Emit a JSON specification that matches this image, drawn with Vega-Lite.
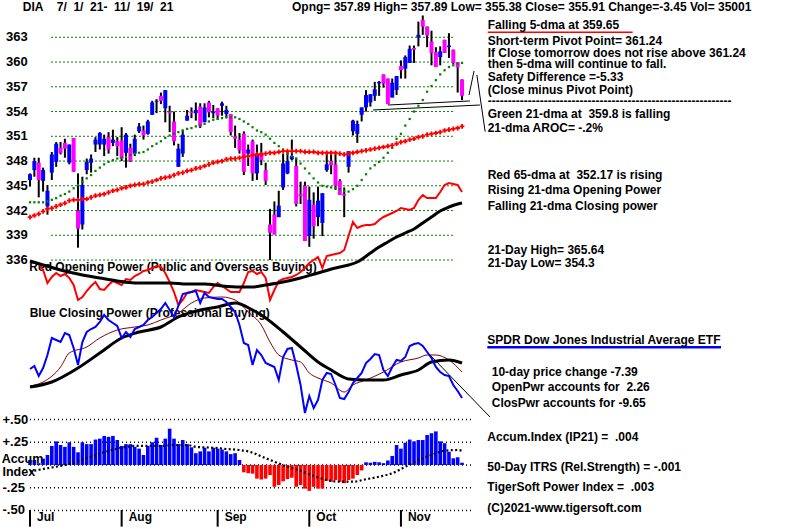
{
"$schema": "https://vega.github.io/schema/vega-lite/v6.json",
"width": 800, "height": 529,
"autosize": {"type": "fit", "contains": "padding"},
"padding": 0,
"background": "white",
"config": {"view": {"stroke": null}, "text": {"font": "Liberation Sans", "fontWeight": "bold", "fontSize": 12, "align": "left", "baseline": "middle", "color": "black"}},
"datasets": {
"candles": [
{"i":0,"o":345.7,"h":346.5,"l":344.9,"c":346.4},{"i":1,"o":346.9,"h":348.4,"l":346.1,"c":348.0},{"i":2,"o":347.8,"h":348.4,"l":343.6,"c":345.7},{"i":3,"o":345.6,"h":347.2,"l":344.3,"c":346.9},{"i":4,"o":342.5,"h":345.1,"l":341.5,"c":344.4},{"i":5,"o":346.6,"h":349.1,"l":345.7,"c":348.8},{"i":6,"o":347.9,"h":350.3,"l":347.3,"c":350.1},{"i":7,"o":349.6,"h":350.3,"l":348.8,"c":349.0},{"i":8,"o":350.2,"h":350.7,"l":348.4,"c":349.5},{"i":9,"o":347.8,"h":350.0,"l":347.6,"c":350.0},
{"i":10,"o":350.8,"h":350.8,"l":346.7,"c":346.7},{"i":11,"o":342.0,"h":346.5,"l":337.5,"c":339.8},{"i":12,"o":340.3,"h":346.1,"l":339.7,"c":345.1},{"i":13,"o":346.9,"h":348.3,"l":346.4,"c":347.9},{"i":14,"o":347.8,"h":348.8,"l":346.6,"c":348.3},{"i":15,"o":350.0,"h":350.9,"l":349.1,"c":350.6},{"i":16,"o":350.0,"h":351.5,"l":349.4,"c":351.4},{"i":17,"o":350.0,"h":351.2,"l":348.6,"c":350.7},{"i":18,"o":350.9,"h":351.5,"l":348.9,"c":349.4},{"i":19,"o":350.2,"h":351.8,"l":349.8,"c":350.6},
{"i":20,"o":350.4,"h":350.9,"l":348.6,"c":349.8},{"i":21,"o":350.5,"h":352.1,"l":348.0,"c":348.3},{"i":22,"o":349.0,"h":351.4,"l":347.2,"c":351.2},{"i":23,"o":349.6,"h":350.1,"l":347.9,"c":348.0},{"i":24,"o":348.9,"h":351.2,"l":348.6,"c":350.7},{"i":25,"o":351.6,"h":352.6,"l":351.4,"c":352.2},{"i":26,"o":351.7,"h":352.3,"l":350.6,"c":351.1},{"i":27,"o":351.3,"h":353.0,"l":351.2,"c":352.8},{"i":28,"o":353.6,"h":355.3,"l":353.6,"c":355.1},{"i":29,"o":355.2,"h":355.5,"l":353.8,"c":355.3},
{"i":30,"o":355.9,"h":356.3,"l":354.9,"c":355.3},{"i":31,"o":354.4,"h":356.6,"l":352.7,"c":356.6},{"i":32,"o":354.0,"h":354.7,"l":351.5,"c":353.8},{"i":33,"o":352.8,"h":354.0,"l":349.9,"c":350.4},{"i":34,"o":347.3,"h":350.1,"l":347.3,"c":349.5},{"i":35,"o":348.9,"h":351.8,"l":348.5,"c":351.2},{"i":36,"o":352.9,"h":354.2,"l":352.9,"c":353.5},{"i":37,"o":354.0,"h":354.5,"l":353.2,"c":353.8},{"i":38,"o":353.8,"h":355.1,"l":352.9,"c":354.2},{"i":39,"o":354.6,"h":355.0,"l":352.0,"c":352.2},
{"i":40,"o":352.7,"h":355.0,"l":352.7,"c":354.5},{"i":41,"o":355.1,"h":355.3,"l":353.3,"c":353.9},{"i":42,"o":353.8,"h":354.8,"l":353.2,"c":354.0},{"i":43,"o":354.4,"h":354.4,"l":353.0,"c":353.5},{"i":44,"o":354.7,"h":355.2,"l":353.5,"c":355.0},{"i":45,"o":353.7,"h":354.7,"l":353.2,"c":354.2},{"i":46,"o":353.7,"h":353.7,"l":351.1,"c":351.5},{"i":47,"o":351.0,"h":352.3,"l":349.6,"c":350.7},{"i":48,"o":350.6,"h":351.4,"l":348.9,"c":349.3},{"i":49,"o":351.3,"h":351.6,"l":346.3,"c":346.7},
{"i":50,"o":348.9,"h":350.0,"l":347.4,"c":349.4},{"i":51,"o":350.4,"h":350.6,"l":345.6,"c":346.5},{"i":52,"o":346.5,"h":350.0,"l":345.7,"c":348.9},{"i":53,"o":349.0,"h":350.2,"l":347.5,"c":348.1},{"i":54,"o":346.9,"h":347.8,"l":345.1,"c":345.6},{"i":55,"o":340.3,"h":342.2,"l":336.0,"c":339.3},{"i":56,"o":341.5,"h":343.1,"l":339.1,"c":339.1},{"i":57,"o":341.2,"h":344.4,"l":341.2,"c":342.6},{"i":58,"o":344.8,"h":348.9,"l":344.5,"c":347.7},{"i":59,"o":346.5,"h":349.2,"l":346.4,"c":348.0},
{"i":60,"o":348.2,"h":350.6,"l":348.1,"c":348.6},{"i":61,"o":347.4,"h":348.4,"l":342.5,"c":342.8},{"i":62,"o":344.0,"h":345.5,"l":342.8,"c":343.7},{"i":63,"o":345.0,"h":345.5,"l":338.3,"c":338.3},{"i":64,"o":338.9,"h":344.9,"l":337.6,"c":343.3},{"i":65,"o":342.7,"h":344.2,"l":338.6,"c":340.1},{"i":66,"o":341.2,"h":344.9,"l":340.1,"c":343.2},{"i":67,"o":340.5,"h":344.1,"l":338.9,"c":344.1},{"i":68,"o":346.9,"h":349.1,"l":346.7,"c":347.6},{"i":69,"o":348.0,"h":349.2,"l":346.4,"c":347.5},
{"i":70,"o":347.6,"h":349.1,"l":344.5,"c":345.0},{"i":71,"o":345.6,"h":345.8,"l":343.9,"c":343.9},{"i":72,"o":344.0,"h":344.8,"l":341.2,"c":343.8},{"i":73,"o":347.3,"h":349.2,"l":346.6,"c":349.2},{"i":74,"o":351.6,"h":353.0,"l":351.1,"c":352.9},{"i":75,"o":351.3,"h":352.9,"l":350.2,"c":352.5},{"i":76,"o":353.6,"h":354.5,"l":352.8,"c":354.5},{"i":77,"o":354.5,"h":356.6,"l":354.0,"c":356.0},{"i":78,"o":355.1,"h":356.1,"l":354.6,"c":356.1},{"i":79,"o":355.9,"h":357.6,"l":355.3,"c":356.7},
{"i":80,"o":357.4,"h":357.7,"l":355.9,"c":357.6},{"i":81,"o":358.5,"h":358.5,"l":356.9,"c":357.4},{"i":82,"o":358.0,"h":358.0,"l":354.9,"c":354.9},{"i":83,"o":355.7,"h":358.0,"l":355.7,"c":357.5},{"i":84,"o":356.6,"h":358.3,"l":356.0,"c":358.3},{"i":85,"o":359.5,"h":360.2,"l":358.0,"c":359.0},{"i":86,"o":359.2,"h":360.8,"l":358.0,"c":360.6},{"i":87,"o":359.9,"h":362.0,"l":359.9,"c":361.6},{"i":88,"o":361.7,"h":362.0,"l":359.9,"c":361.5},{"i":89,"o":363.0,"h":364.9,"l":361.9,"c":363.3},
{"i":90,"o":365.1,"h":365.64,"l":363.3,"c":364.3},{"i":91,"o":364.3,"h":364.3,"l":361.8,"c":363.2},{"i":92,"o":362.5,"h":363.8,"l":359.6,"c":361.1},{"i":93,"o":361.2,"h":361.8,"l":359.4,"c":359.4},{"i":94,"o":360.6,"h":361.9,"l":359.6,"c":361.3},{"i":95,"o":362.7,"h":362.7,"l":361.1,"c":361.1},{"i":96,"o":361.8,"h":363.5,"l":360.5,"c":362.0},{"i":97,"o":361.5,"h":361.5,"l":359.7,"c":359.9},{"i":98,"o":360.0,"h":360.0,"l":356.3,"c":359.36},{"i":99,"o":357.89,"h":357.89,"l":355.38,"c":355.91}
],
"ma": [
{"i":0,"g":343.0,"r":341.2},{"i":1,"g":343.0,"r":341.4},{"i":2,"g":343.0,"r":341.6},{"i":3,"g":343.0,"r":341.9},{"i":4,"g":343.1,"r":342.2},{"i":5,"g":343.3,"r":342.3},{"i":6,"g":343.5,"r":342.5},{"i":7,"g":343.8,"r":342.7},{"i":8,"g":344.0,"r":342.9},{"i":9,"g":344.3,"r":343.2},
{"i":10,"g":344.7,"r":343.3},{"i":11,"g":345.1,"r":343.3},{"i":12,"g":345.5,"r":343.4},{"i":13,"g":345.9,"r":343.4},{"i":14,"g":346.3,"r":343.6},{"i":15,"g":346.8,"r":343.8},{"i":16,"g":347.2,"r":343.9},{"i":17,"g":347.6,"r":344.0},{"i":18,"g":347.9,"r":344.2},{"i":19,"g":348.1,"r":344.4},
{"i":20,"g":348.3,"r":344.5},{"i":21,"g":348.4,"r":344.7},{"i":22,"g":348.5,"r":344.8},{"i":23,"g":348.7,"r":345.0},{"i":24,"g":348.9,"r":345.1},{"i":25,"g":349.0,"r":345.2},{"i":26,"g":349.1,"r":345.2},{"i":27,"g":349.4,"r":345.4},{"i":28,"g":349.8,"r":345.5},{"i":29,"g":350.1,"r":345.7},
{"i":30,"g":350.4,"r":345.9},{"i":31,"g":350.8,"r":346.0},{"i":32,"g":351.1,"r":346.1},{"i":33,"g":351.3,"r":346.3},{"i":34,"g":351.5,"r":346.5},{"i":35,"g":351.7,"r":346.6},{"i":36,"g":351.9,"r":346.8},{"i":37,"g":352.0,"r":346.9},{"i":38,"g":352.2,"r":347.1},{"i":39,"g":352.3,"r":347.2},
{"i":40,"g":352.5,"r":347.4},{"i":41,"g":352.8,"r":347.6},{"i":42,"g":353.0,"r":347.8},{"i":43,"g":353.1,"r":347.9},{"i":44,"g":353.2,"r":348.0},{"i":45,"g":353.3,"r":348.2},{"i":46,"g":353.3,"r":348.3},{"i":47,"g":353.3,"r":348.3},{"i":48,"g":353.1,"r":348.4},{"i":49,"g":352.8,"r":348.5},
{"i":50,"g":352.5,"r":348.6},{"i":51,"g":352.1,"r":348.7},{"i":52,"g":351.7,"r":348.8},{"i":53,"g":351.5,"r":348.8},{"i":54,"g":351.2,"r":348.9},{"i":55,"g":350.7,"r":349.0},{"i":56,"g":350.2,"r":349.0},{"i":57,"g":349.8,"r":349.1},{"i":58,"g":349.4,"r":349.2},{"i":59,"g":348.9,"r":349.2},
{"i":60,"g":348.6,"r":349.2},{"i":61,"g":348.3,"r":349.2},{"i":62,"g":347.7,"r":349.2},{"i":63,"g":347.1,"r":349.1},{"i":64,"g":346.5,"r":349.1},{"i":65,"g":345.9,"r":349.1},{"i":66,"g":345.4,"r":349.0},{"i":67,"g":345.0,"r":349.0},{"i":68,"g":344.9,"r":349.0},{"i":69,"g":344.8,"r":349.0},
{"i":70,"g":344.7,"r":349.0},{"i":71,"g":344.6,"r":348.9},{"i":72,"g":344.4,"r":348.8},{"i":73,"g":344.3,"r":348.9},{"i":74,"g":344.6,"r":349.0},{"i":75,"g":345.0,"r":349.1},{"i":76,"g":345.7,"r":349.2},{"i":77,"g":346.4,"r":349.3},{"i":78,"g":347.1,"r":349.4},{"i":79,"g":347.5,"r":349.5},
{"i":80,"g":347.9,"r":349.6},{"i":81,"g":348.4,"r":349.7},{"i":82,"g":349.0,"r":349.8},{"i":83,"g":349.6,"r":349.9},{"i":84,"g":350.7,"r":350.1},{"i":85,"g":351.3,"r":350.3},{"i":86,"g":352.3,"r":350.4},{"i":87,"g":353.1,"r":350.6},{"i":88,"g":354.0,"r":350.7},{"i":89,"g":354.7,"r":350.9},
{"i":90,"g":355.4,"r":351.0},{"i":91,"g":356.4,"r":351.2},{"i":92,"g":357.1,"r":351.3},{"i":93,"g":357.8,"r":351.4},{"i":94,"g":358.5,"r":351.5},{"i":95,"g":359.0,"r":351.7},{"i":96,"g":359.4,"r":351.8},{"i":97,"g":359.6,"r":351.9},{"i":98,"g":359.8,"r":352.0},{"i":99,"g":359.9,"r":352.2}
],
"op": [
{"i":0,"v":98.67},{"i":1,"v":98.67},{"i":2,"v":97.33},{"i":3,"v":93.33},{"i":4,"v":84.67},{"i":5,"v":88.67},{"i":6,"v":91.33},{"i":7,"v":89.33},{"i":8,"v":90.67},{"i":9,"v":88},{"i":10,"v":83.33},{"i":11,"v":73.33},{"i":12,"v":75.33},{"i":13,"v":79.33},{"i":14,"v":82.67},{"i":15,"v":85.33},{"i":16,"v":80.67},{"i":17,"v":80},{"i":18,"v":83.33},{"i":19,"v":86},{"i":20,"v":84.67},{"i":21,"v":83.33},{"i":22,"v":87.33},{"i":23,"v":86.67},{"i":24,"v":89.33},{"i":25,"v":90.67},{"i":26,"v":92.67},{"i":27,"v":93.33},{"i":28,"v":94.67},{"i":29,"v":96},{"i":30,"v":95.33},{"i":31,"v":91.33},{"i":32,"v":85.33},{"i":33,"v":78.67},{"i":34,"v":70},{"i":35,"v":73.33},{"i":36,"v":78},{"i":37,"v":78.67},{"i":38,"v":80},{"i":39,"v":79.33},{"i":40,"v":78.67},{"i":41,"v":78},{"i":42,"v":82},{"i":43,"v":84.67},{"i":44,"v":82.67},{"i":45,"v":80.67},{"i":46,"v":78.67},{"i":47,"v":78.67},{"i":48,"v":78.67},{"i":49,"v":84.67},{"i":50,"v":92},{"i":51,"v":92.67},{"i":52,"v":90.67},{"i":53,"v":92},{"i":54,"v":88},{"i":55,"v":73.33},{"i":56,"v":80},{"i":57,"v":86},{"i":58,"v":87.33},{"i":59,"v":88},{"i":60,"v":88.67},{"i":61,"v":90},{"i":62,"v":92},{"i":63,"v":94.67},{"i":64,"v":98},{"i":65,"v":100},{"i":66,"v":102},{"i":67,"v":94.67},{"i":68,"v":102.67},{"i":69,"v":103.33},{"i":70,"v":104},{"i":71,"v":104.67},{"i":72,"v":106.67},{"i":73,"v":116},{"i":74,"v":125.33},{"i":75,"v":121.33},{"i":76,"v":122.67},{"i":77,"v":123.33},{"i":78,"v":123.33},{"i":79,"v":124},{"i":80,"v":126.67},{"i":81,"v":128.67},{"i":82,"v":130},{"i":83,"v":131.33},{"i":84,"v":132.67},{"i":85,"v":134.67},{"i":86,"v":134},{"i":87,"v":133.33},{"i":88,"v":134.67},{"i":89,"v":140},{"i":90,"v":143.33},{"i":91,"v":141.33},{"i":92,"v":141.33},{"i":93,"v":141.33},{"i":94,"v":145.33},{"i":95,"v":150},{"i":96,"v":151.33},{"i":97,"v":150.67},{"i":98,"v":150},{"i":99,"v":145.33}
],
"opma": [
{"i":0,"v":99.33},{"i":3,"v":96.67},{"i":7,"v":93.33},{"i":11,"v":90.67},{"i":16,"v":88},{"i":20,"v":86},{"i":24,"v":84.67},{"i":28,"v":84.67},{"i":32,"v":84.67},{"i":36,"v":84},{"i":40,"v":84},{"i":44,"v":82.67},{"i":48,"v":82},{"i":51,"v":82},{"i":54,"v":83.33},{"i":58,"v":85.33},{"i":62,"v":88},{"i":66,"v":91.33},{"i":70,"v":94.67},{"i":73,"v":96.67},{"i":75,"v":98.67},{"i":78,"v":104.67},{"i":80,"v":108.67},{"i":82,"v":112},{"i":84,"v":115.33},{"i":86,"v":118},{"i":88,"v":120.67},{"i":90,"v":124.67},{"i":92,"v":128.67},{"i":94,"v":132.67},{"i":96,"v":135.33},{"i":98,"v":137.33},{"i":99,"v":138}
],
"cp": [
{"i":0,"v":27.33},{"i":1,"v":29.33},{"i":2,"v":22.67},{"i":3,"v":28},{"i":4,"v":36.67},{"i":5,"v":48},{"i":6,"v":46.67},{"i":7,"v":45.33},{"i":8,"v":51.33},{"i":9,"v":50},{"i":10,"v":41.33},{"i":11,"v":30},{"i":12,"v":45.33},{"i":13,"v":52},{"i":14,"v":54},{"i":15,"v":55.33},{"i":16,"v":58.67},{"i":17,"v":63.33},{"i":18,"v":60},{"i":19,"v":58},{"i":20,"v":56},{"i":21,"v":48},{"i":22,"v":52},{"i":23,"v":48.67},{"i":24,"v":54},{"i":25,"v":55.33},{"i":26,"v":56.67},{"i":27,"v":60},{"i":28,"v":62},{"i":29,"v":64.67},{"i":30,"v":67.33},{"i":31,"v":71.33},{"i":32,"v":66.67},{"i":33,"v":62},{"i":34,"v":69.33},{"i":35,"v":77.33},{"i":36,"v":78},{"i":37,"v":78.67},{"i":38,"v":79.33},{"i":39,"v":71.33},{"i":40,"v":78},{"i":41,"v":75.33},{"i":42,"v":74.67},{"i":43,"v":74},{"i":44,"v":74},{"i":45,"v":72},{"i":46,"v":68.67},{"i":47,"v":65.33},{"i":48,"v":56.67},{"i":49,"v":44.67},{"i":50,"v":43.33},{"i":51,"v":30},{"i":52,"v":40},{"i":53,"v":36.67},{"i":54,"v":31.33},{"i":55,"v":30},{"i":56,"v":28.67},{"i":57,"v":20},{"i":58,"v":35.33},{"i":59,"v":40.67},{"i":60,"v":41.33},{"i":61,"v":30},{"i":62,"v":16.67},{"i":63,"v":-2},{"i":64,"v":9.33},{"i":65,"v":1.33},{"i":66,"v":6.67},{"i":67,"v":20},{"i":68,"v":24.67},{"i":69,"v":24},{"i":70,"v":16.67},{"i":71,"v":8},{"i":72,"v":7.33},{"i":73,"v":12},{"i":74,"v":18},{"i":75,"v":21.33},{"i":76,"v":24.67},{"i":77,"v":31.33},{"i":78,"v":34},{"i":79,"v":37.33},{"i":80,"v":36.67},{"i":81,"v":26.67},{"i":82,"v":22.67},{"i":83,"v":28.67},{"i":84,"v":33.33},{"i":85,"v":32.67},{"i":86,"v":35.33},{"i":87,"v":42.67},{"i":88,"v":44},{"i":89,"v":44.67},{"i":90,"v":42.67},{"i":91,"v":38.67},{"i":92,"v":34.67},{"i":93,"v":28.67},{"i":94,"v":25.33},{"i":95,"v":23.33},{"i":96,"v":22.67},{"i":97,"v":16.67},{"i":98,"v":12.67},{"i":99,"v":8}
],
"cpm": [
{"i":0,"v":16},{"i":3,"v":18.67},{"i":7,"v":28.67},{"i":9,"v":38},{"i":13,"v":42},{"i":16,"v":48},{"i":20,"v":53.33},{"i":24,"v":55.33},{"i":27,"v":56.67},{"i":30,"v":60},{"i":34,"v":64.67},{"i":37,"v":71.33},{"i":40,"v":74.67},{"i":44,"v":75.33},{"i":47,"v":73.33},{"i":50,"v":65.33},{"i":53,"v":56.67},{"i":55,"v":45.33},{"i":57,"v":36.67},{"i":60,"v":33.33},{"i":62,"v":32},{"i":64,"v":24.67},{"i":66,"v":21.33},{"i":69,"v":18},{"i":72,"v":12},{"i":74,"v":16.67},{"i":77,"v":20},{"i":81,"v":25.33},{"i":85,"v":32},{"i":89,"v":34.67},{"i":91,"v":36.67},{"i":93,"v":36.67},{"i":96,"v":33.33},{"i":99,"v":25.33}
],
"cpb": [
{"i":0,"v":15.33},{"i":5,"v":18.67},{"i":11,"v":28},{"i":16,"v":38},{"i":21,"v":48},{"i":25,"v":52},{"i":30,"v":55.33},{"i":34,"v":62},{"i":39,"v":66.67},{"i":43,"v":68.67},{"i":47,"v":71.33},{"i":51,"v":66.67},{"i":54,"v":61.33},{"i":58,"v":52},{"i":62,"v":42},{"i":66,"v":32},{"i":69,"v":26.67},{"i":73,"v":20.67},{"i":77,"v":20},{"i":81,"v":20},{"i":85,"v":23.33},{"i":89,"v":26.67},{"i":92,"v":32},{"i":96,"v":33.33},{"i":99,"v":31.33}
],
"acc": [
{"i":0,"v":0.055},{"i":1,"v":0.055},{"i":2,"v":0.02},{"i":3,"v":0.07},{"i":4,"v":0.11},{"i":5,"v":0.21},{"i":6,"v":0.26},{"i":7,"v":0.22},{"i":8,"v":0.2},{"i":9,"v":0.25},{"i":10,"v":0.2},{"i":11,"v":0.14},{"i":12,"v":0.25},{"i":13,"v":0.23},{"i":14,"v":0.23},{"i":15,"v":0.28},{"i":16,"v":0.29},{"i":17,"v":0.32},{"i":18,"v":0.31},{"i":19,"v":0.32},{"i":20,"v":0.275},{"i":21,"v":0.21},{"i":22,"v":0.23},{"i":23,"v":0.23},{"i":24,"v":0.2},{"i":25,"v":0.18},{"i":26,"v":0.11},{"i":27,"v":0.21},{"i":28,"v":0.25},{"i":29,"v":0.3},{"i":30,"v":0.22},{"i":31,"v":0.29},{"i":32,"v":0.4},{"i":33,"v":0.29},{"i":34,"v":0.23},{"i":35,"v":0.275},{"i":36,"v":0.23},{"i":37,"v":0.195},{"i":38,"v":0.13},{"i":39,"v":0.15},{"i":40,"v":0.19},{"i":41,"v":0.15},{"i":42,"v":0.19},{"i":43,"v":0.18},{"i":44,"v":0.17},{"i":45,"v":0.15},{"i":46,"v":0.12},{"i":47,"v":0.13},{"i":48,"v":0.055},{"i":49,"v":-0.08},{"i":50,"v":-0.09},{"i":51,"v":-0.095},{"i":52,"v":-0.15},{"i":53,"v":-0.16},{"i":54,"v":-0.15},{"i":55,"v":-0.11},{"i":56,"v":-0.24},{"i":57,"v":-0.22},{"i":58,"v":-0.18},{"i":59,"v":-0.155},{"i":60,"v":-0.14},{"i":61,"v":-0.24},{"i":62,"v":-0.22},{"i":63,"v":-0.26},{"i":64,"v":-0.285},{"i":65,"v":-0.24},{"i":66,"v":-0.26},{"i":67,"v":-0.26},{"i":68,"v":-0.175},{"i":69,"v":-0.185},{"i":70,"v":-0.165},{"i":71,"v":-0.185},{"i":72,"v":-0.2},{"i":73,"v":-0.165},{"i":74,"v":-0.15},{"i":75,"v":-0.11},{"i":76,"v":-0.06},{"i":77,"v":0.03},{"i":78,"v":0.025},{"i":79,"v":0.035},{"i":80,"v":0.03},{"i":81,"v":0.02},{"i":82,"v":0.05},{"i":83,"v":0.1},{"i":84,"v":0.22},{"i":85,"v":0.18},{"i":86,"v":0.245},{"i":87,"v":0.28},{"i":88,"v":0.26},{"i":89,"v":0.275},{"i":90,"v":0.275},{"i":91,"v":0.33},{"i":92,"v":0.35},{"i":93,"v":0.37},{"i":94,"v":0.26},{"i":95,"v":0.24},{"i":96,"v":0.146},{"i":97,"v":0.074},{"i":98,"v":0.085},{"i":99,"v":0.025}
],
"accma": [
{"i":0,"v":-0.074},{"i":3,"v":-0.044},{"i":6,"v":-0.019},{"i":9,"v":0.011},{"i":11,"v":0.044},{"i":14,"v":0.091},{"i":17,"v":0.14},{"i":21,"v":0.19},{"i":24,"v":0.21},{"i":27,"v":0.21},{"i":30,"v":0.21},{"i":33,"v":0.22},{"i":36,"v":0.22},{"i":38,"v":0.2},{"i":42,"v":0.19},{"i":45,"v":0.176},{"i":48,"v":0.165},{"i":50,"v":0.15},{"i":53,"v":0.095},{"i":56,"v":0.036},{"i":59,"v":-0.019},{"i":62,"v":-0.063},{"i":65,"v":-0.121},{"i":68,"v":-0.165},{"i":71,"v":-0.184},{"i":74,"v":-0.184},{"i":77,"v":-0.157},{"i":80,"v":-0.129},{"i":83,"v":-0.091},{"i":86,"v":-0.019},{"i":89,"v":0.055},{"i":92,"v":0.11},{"i":95,"v":0.157},{"i":98,"v":0.165},{"i":99,"v":0.157}
],
"grid": [{"p":336},{"p":339},{"p":342},{"p":345},{"p":348},{"p":351},{"p":354},{"p":357},{"p":360},{"p":363}],
"agrid": [{"v":0.5,"t":"+.50"},{"v":0.25,"t":"+.25"},{"v":0,"t":""},{"v":-0.25,"t":"-.25"},{"v":-0.5,"t":"-.50"}],
"months": [{"i":0,"m":"Jul"},{"i":21,"m":"Aug"},{"i":43,"m":"Sep"},{"i":64,"m":"Oct"},{"i":85,"m":"Nov"}]
},
"resolve": {"scale": {"y": "independent"}},
"layer": [
{
"layer": [
{"data": {"name": "grid"}, "mark": {"type": "rule", "color": "#008000", "strokeDash": [2, 2], "strokeWidth": 1},
 "encoding": {"x": {"datum": 4.81, "type": "quantitative", "scale": {"domain": [-6.8744, 176.444], "nice": false, "zero": false}, "axis": null}, "x2": {"datum": 97.39}, "y": {"field": "p", "type": "quantitative", "scale": {"domain": [303.4, 367.52], "nice": false, "zero": false}, "axis": null}}},
{"data": {"name": "grid"}, "mark": {"type": "text", "fontSize": 13},
 "encoding": {"x": {"datum": -5.5, "type": "quantitative", "scale": {"domain": [-6.8744, 176.444], "nice": false, "zero": false}, "axis": null}, "y": {"field": "p", "type": "quantitative", "scale": {"domain": [303.4, 367.52], "nice": false, "zero": false}, "axis": null}, "text": {"field": "p", "type": "nominal"}}},
{"data": {"name": "candles"}, "mark": {"type": "rule", "color": "black", "strokeWidth": 2},
 "encoding": {"x": {"field": "i", "type": "quantitative", "scale": {"domain": [-6.8744, 176.444], "nice": false, "zero": false}, "axis": null}, "y": {"field": "l", "type": "quantitative", "scale": {"domain": [303.4, 367.52], "nice": false, "zero": false}, "axis": null}, "y2": {"field": "h"}}},
{"data": {"name": "candles"}, "mark": {"type": "rule", "strokeWidth": 4, "strokeCap": "butt"},
 "encoding": {"x": {"field": "i", "type": "quantitative", "scale": {"domain": [-6.8744, 176.444], "nice": false, "zero": false}, "axis": null}, "y": {"field": "o", "type": "quantitative", "scale": {"domain": [303.4, 367.52], "nice": false, "zero": false}, "axis": null}, "y2": {"field": "c"},
  "color": {"condition": {"test": "datum.c >= datum.o", "value": "#0000ff"}, "value": "#ff00ff"}}},
{"data": {"name": "ma"}, "mark": {"type": "point", "shape": "square", "size": 5, "filled": true, "color": "#008000", "opacity": 1},
 "encoding": {"x": {"field": "i", "type": "quantitative", "scale": {"domain": [-6.8744, 176.444], "nice": false, "zero": false}, "axis": null}, "y": {"field": "g", "type": "quantitative", "scale": {"domain": [303.4, 367.52], "nice": false, "zero": false}, "axis": null}}},
{"data": {"name": "ma"}, "mark": {"type": "point", "shape": "cross", "size": 22, "filled": true, "color": "#ff0000", "opacity": 1},
 "encoding": {"x": {"field": "i", "type": "quantitative", "scale": {"domain": [-6.8744, 176.444], "nice": false, "zero": false}, "axis": null}, "y": {"field": "r", "type": "quantitative", "scale": {"domain": [303.4, 367.52], "nice": false, "zero": false}, "axis": null}}},
{"data": {"values": [{}]}, "mark": {"type": "rule", "color": "black", "strokeWidth": 1},
 "encoding": {"x": {"datum": 78.6, "type": "quantitative", "scale": {"domain": [-6.8744, 176.444], "nice": false, "zero": false}, "axis": null}, "x2": {"datum": 103.1}, "y": {"datum": 354.19, "type": "quantitative", "scale": {"domain": [303.4, 367.52], "nice": false, "zero": false}, "axis": null}, "y2": {"datum": 354.79}}},
{"data": {"values": [{}]}, "mark": {"type": "rule", "color": "black", "strokeWidth": 1},
 "encoding": {"x": {"datum": 82.0, "type": "quantitative", "scale": {"domain": [-6.8744, 176.444], "nice": false, "zero": false}, "axis": null}, "x2": {"datum": 100.8}, "y": {"datum": 354.79, "type": "quantitative", "scale": {"domain": [303.4, 367.52], "nice": false, "zero": false}, "axis": null}, "y2": {"datum": 355.28}}},
{"data": {"values": [{}]}, "mark": {"type": "rule", "color": "black", "strokeWidth": 1},
 "encoding": {"x": {"datum": 100.6, "type": "quantitative", "scale": {"domain": [-6.8744, 176.444], "nice": false, "zero": false}, "axis": null}, "x2": {"datum": 101.75}, "y": {"datum": 356.01, "type": "quantitative", "scale": {"domain": [303.4, 367.52], "nice": false, "zero": false}, "axis": null}, "y2": {"datum": 358.92}}},
{"data": {"values": [{}]}, "mark": {"type": "rule", "color": "black", "strokeWidth": 1},
 "encoding": {"x": {"datum": 102.4, "type": "quantitative", "scale": {"domain": [-6.8744, 176.444], "nice": false, "zero": false}, "axis": null}, "x2": {"datum": 104.3}, "y": {"datum": 358.43, "type": "quantitative", "scale": {"domain": [303.4, 367.52], "nice": false, "zero": false}, "axis": null}, "y2": {"datum": 351.56}}},
{"data": {"values": [{}]}, "mark": {"type": "rule", "color": "#ff0000", "strokeWidth": 1.5},
 "encoding": {"x": {"datum": 104.88, "type": "quantitative", "scale": {"domain": [-6.8744, 176.444], "nice": false, "zero": false}, "axis": null}, "x2": {"datum": 138.1}, "y": {"datum": 363.61, "type": "quantitative", "scale": {"domain": [303.4, 367.52], "nice": false, "zero": false}, "axis": null}}},
{"data": {"values": [{}]}, "mark": {"type": "text", "text": "DIA"}, "encoding": {"x": {"datum": -1.67, "type": "quantitative", "scale": {"domain": [-6.8744, 176.444], "nice": false, "zero": false}, "axis": null}, "y": {"datum": 366.71, "type": "quantitative", "scale": {"domain": [303.4, 367.52], "nice": false, "zero": false}, "axis": null}}},
{"data": {"values": [{}]}, "mark": {"type": "text", "text": "7/\u00a0\u00a01/\u00a0\u00a021-\u00a0\u00a011/\u00a0\u00a019/\u00a0\u00a021"}, "encoding": {"x": {"datum": 6.12, "type": "quantitative", "scale": {"domain": [-6.8744, 176.444], "nice": false, "zero": false}, "axis": null}, "y": {"datum": 366.71, "type": "quantitative", "scale": {"domain": [303.4, 367.52], "nice": false, "zero": false}, "axis": null}}},
{"data": {"values": [{}]}, "mark": {"type": "text", "text": "Opng= 357.89 High= 357.89 Low= 355.38 Close= 355.91 Change=-3.45 Vol= 35001"}, "encoding": {"x": {"datum": 60.04, "type": "quantitative", "scale": {"domain": [-6.8744, 176.444], "nice": false, "zero": false}, "axis": null}, "y": {"datum": 366.71, "type": "quantitative", "scale": {"domain": [303.4, 367.52], "nice": false, "zero": false}, "axis": null}}},
{"data": {"values": [{}]}, "mark": {"type": "text", "text": "Falling 5-dma at 359.65"}, "encoding": {"x": {"datum": 104.88, "type": "quantitative", "scale": {"domain": [-6.8744, 176.444], "nice": false, "zero": false}, "axis": null}, "y": {"datum": 364.49, "type": "quantitative", "scale": {"domain": [303.4, 367.52], "nice": false, "zero": false}, "axis": null}}},
{"data": {"values": [{}]}, "mark": {"type": "text", "text": "Short-term Pivot Point= 361.24"}, "encoding": {"x": {"datum": 104.88, "type": "quantitative", "scale": {"domain": [-6.8744, 176.444], "nice": false, "zero": false}, "axis": null}, "y": {"datum": 362.59, "type": "quantitative", "scale": {"domain": [303.4, 367.52], "nice": false, "zero": false}, "axis": null}}},
{"data": {"values": [{}]}, "mark": {"type": "text", "text": "If Close tomorrow does not rise above 361.24"}, "encoding": {"x": {"datum": 104.88, "type": "quantitative", "scale": {"domain": [-6.8744, 176.444], "nice": false, "zero": false}, "axis": null}, "y": {"datum": 361.13, "type": "quantitative", "scale": {"domain": [303.4, 367.52], "nice": false, "zero": false}, "axis": null}}},
{"data": {"values": [{}]}, "mark": {"type": "text", "text": "then 5-dma will continue to fall."}, "encoding": {"x": {"datum": 104.88, "type": "quantitative", "scale": {"domain": [-6.8744, 176.444], "nice": false, "zero": false}, "axis": null}, "y": {"datum": 359.73, "type": "quantitative", "scale": {"domain": [303.4, 367.52], "nice": false, "zero": false}, "axis": null}}},
{"data": {"values": [{}]}, "mark": {"type": "text", "text": "Safety Difference =-5.33"}, "encoding": {"x": {"datum": 104.88, "type": "quantitative", "scale": {"domain": [-6.8744, 176.444], "nice": false, "zero": false}, "axis": null}, "y": {"datum": 358.22, "type": "quantitative", "scale": {"domain": [303.4, 367.52], "nice": false, "zero": false}, "axis": null}}},
{"data": {"values": [{}]}, "mark": {"type": "text", "text": "\u00a0(Close minus Pivot Point)"}, "encoding": {"x": {"datum": 104.88, "type": "quantitative", "scale": {"domain": [-6.8744, 176.444], "nice": false, "zero": false}, "axis": null}, "y": {"datum": 356.61, "type": "quantitative", "scale": {"domain": [303.4, 367.52], "nice": false, "zero": false}, "axis": null}}},
{"data": {"values": [{}]}, "mark": {"type": "text", "text": "-------------------------------------------------------------"}, "encoding": {"x": {"datum": 104.88, "type": "quantitative", "scale": {"domain": [-6.8744, 176.444], "nice": false, "zero": false}, "axis": null}, "y": {"datum": 355.3, "type": "quantitative", "scale": {"domain": [303.4, 367.52], "nice": false, "zero": false}, "axis": null}}},
{"data": {"values": [{}]}, "mark": {"type": "text", "text": "Green 21-dma at\u00a0\u00a0359.8 is falling"}, "encoding": {"x": {"datum": 104.88, "type": "quantitative", "scale": {"domain": [-6.8744, 176.444], "nice": false, "zero": false}, "axis": null}, "y": {"datum": 353.7, "type": "quantitative", "scale": {"domain": [303.4, 367.52], "nice": false, "zero": false}, "axis": null}}},
{"data": {"values": [{}]}, "mark": {"type": "text", "text": "21-dma AROC= -.2%"}, "encoding": {"x": {"datum": 104.88, "type": "quantitative", "scale": {"domain": [-6.8744, 176.444], "nice": false, "zero": false}, "axis": null}, "y": {"datum": 351.97, "type": "quantitative", "scale": {"domain": [303.4, 367.52], "nice": false, "zero": false}, "axis": null}}},
{"data": {"values": [{}]}, "mark": {"type": "text", "text": "Red 65-dma at\u00a0\u00a0352.17 is rising"}, "encoding": {"x": {"datum": 104.88, "type": "quantitative", "scale": {"domain": [-6.8744, 176.444], "nice": false, "zero": false}, "axis": null}, "y": {"datum": 346.31, "type": "quantitative", "scale": {"domain": [303.4, 367.52], "nice": false, "zero": false}, "axis": null}}},
{"data": {"values": [{}]}, "mark": {"type": "text", "text": "Rising 21-dma Opening Power"}, "encoding": {"x": {"datum": 104.88, "type": "quantitative", "scale": {"domain": [-6.8744, 176.444], "nice": false, "zero": false}, "axis": null}, "y": {"datum": 344.49, "type": "quantitative", "scale": {"domain": [303.4, 367.52], "nice": false, "zero": false}, "axis": null}}},
{"data": {"values": [{}]}, "mark": {"type": "text", "text": "Falling 21-dma Closing power"}, "encoding": {"x": {"datum": 104.88, "type": "quantitative", "scale": {"domain": [-6.8744, 176.444], "nice": false, "zero": false}, "axis": null}, "y": {"datum": 342.59, "type": "quantitative", "scale": {"domain": [303.4, 367.52], "nice": false, "zero": false}, "axis": null}}},
{"data": {"values": [{}]}, "mark": {"type": "text", "text": "21-Day High= 365.64"}, "encoding": {"x": {"datum": 104.88, "type": "quantitative", "scale": {"domain": [-6.8744, 176.444], "nice": false, "zero": false}, "axis": null}, "y": {"datum": 337.22, "type": "quantitative", "scale": {"domain": [303.4, 367.52], "nice": false, "zero": false}, "axis": null}}},
{"data": {"values": [{}]}, "mark": {"type": "text", "text": "21-Day Low= 354.3"}, "encoding": {"x": {"datum": 104.88, "type": "quantitative", "scale": {"domain": [-6.8744, 176.444], "nice": false, "zero": false}, "axis": null}, "y": {"datum": 335.61, "type": "quantitative", "scale": {"domain": [303.4, 367.52], "nice": false, "zero": false}, "axis": null}}}
]
},
{
"layer": [
{"data": {"values": [{}]}, "mark": {"type": "text", "text": "Red Opening Power (Public and Overseas Buying)"}, "encoding": {"x": {"datum": -0.16, "type": "quantitative", "scale": {"domain": [-6.8744, 176.444], "nice": false, "zero": false}, "axis": null}, "y": {"datum": 95.33, "type": "quantitative", "scale": {"domain": [-79.33, 273.33], "nice": false, "zero": false}, "axis": null}}},
{"data": {"values": [{}]}, "mark": {"type": "text", "text": "Blue Closing Power (Professional Buying)"}, "encoding": {"x": {"datum": -0.07, "type": "quantitative", "scale": {"domain": [-6.8744, 176.444], "nice": false, "zero": false}, "axis": null}, "y": {"datum": 64.67, "type": "quantitative", "scale": {"domain": [-79.33, 273.33], "nice": false, "zero": false}, "axis": null}}},
{"data": {"name": "op"}, "mark": {"type": "line", "color": "#ff0000", "strokeWidth": 2},
 "encoding": {"x": {"field": "i", "type": "quantitative", "scale": {"domain": [-6.8744, 176.444], "nice": false, "zero": false}, "axis": null}, "y": {"field": "v", "type": "quantitative", "scale": {"domain": [-79.33, 273.33], "nice": false, "zero": false}, "axis": null}}},
{"data": {"name": "opma"}, "mark": {"type": "line", "color": "black", "strokeWidth": 3, "interpolate": "monotone"},
 "encoding": {"x": {"field": "i", "type": "quantitative", "scale": {"domain": [-6.8744, 176.444], "nice": false, "zero": false}, "axis": null}, "y": {"field": "v", "type": "quantitative", "scale": {"domain": [-79.33, 273.33], "nice": false, "zero": false}, "axis": null}}},
{"data": {"name": "cpm"}, "mark": {"type": "line", "color": "#800000", "strokeWidth": 1, "interpolate": "monotone"},
 "encoding": {"x": {"field": "i", "type": "quantitative", "scale": {"domain": [-6.8744, 176.444], "nice": false, "zero": false}, "axis": null}, "y": {"field": "v", "type": "quantitative", "scale": {"domain": [-79.33, 273.33], "nice": false, "zero": false}, "axis": null}}},
{"data": {"name": "cpb"}, "mark": {"type": "line", "color": "black", "strokeWidth": 3, "interpolate": "monotone"},
 "encoding": {"x": {"field": "i", "type": "quantitative", "scale": {"domain": [-6.8744, 176.444], "nice": false, "zero": false}, "axis": null}, "y": {"field": "v", "type": "quantitative", "scale": {"domain": [-79.33, 273.33], "nice": false, "zero": false}, "axis": null}}},
{"data": {"name": "cp"}, "mark": {"type": "line", "color": "#0000ff", "strokeWidth": 2},
 "encoding": {"x": {"field": "i", "type": "quantitative", "scale": {"domain": [-6.8744, 176.444], "nice": false, "zero": false}, "axis": null}, "y": {"field": "v", "type": "quantitative", "scale": {"domain": [-79.33, 273.33], "nice": false, "zero": false}, "axis": null}}},
{"data": {"values": [{}]}, "mark": {"type": "rule", "color": "black", "strokeWidth": 1},
 "encoding": {"x": {"datum": 91.66, "type": "quantitative", "scale": {"domain": [-6.8744, 176.444], "nice": false, "zero": false}, "axis": null}, "x2": {"datum": 105.41}, "y": {"datum": 36.67, "type": "quantitative", "scale": {"domain": [-79.33, 273.33], "nice": false, "zero": false}, "axis": null}, "y2": {"datum": -4.67}}},
{"data": {"values": [{}]}, "mark": {"type": "rule", "color": "#0000ff", "strokeWidth": 2.5},
 "encoding": {"x": {"datum": 104.79, "type": "quantitative", "scale": {"domain": [-6.8744, 176.444], "nice": false, "zero": false}, "axis": null}, "x2": {"datum": 158.34}, "y": {"datum": 41.8, "type": "quantitative", "scale": {"domain": [-79.33, 273.33], "nice": false, "zero": false}, "axis": null}}},
{"data": {"values": [{}]}, "mark": {"type": "text", "text": "SPDR Dow Jones Industrial Average ETF"}, "encoding": {"x": {"datum": 104.79, "type": "quantitative", "scale": {"domain": [-6.8744, 176.444], "nice": false, "zero": false}, "axis": null}, "y": {"datum": 46.67, "type": "quantitative", "scale": {"domain": [-79.33, 273.33], "nice": false, "zero": false}, "axis": null}}},
{"data": {"values": [{}]}, "mark": {"type": "text", "text": "10-day price change -7.39"}, "encoding": {"x": {"datum": 105.8, "type": "quantitative", "scale": {"domain": [-6.8744, 176.444], "nice": false, "zero": false}, "axis": null}, "y": {"datum": 25.56, "type": "quantitative", "scale": {"domain": [-79.33, 273.33], "nice": false, "zero": false}, "axis": null}}},
{"data": {"values": [{}]}, "mark": {"type": "text", "text": "OpenPwr accounts for\u00a0\u00a02.26"}, "encoding": {"x": {"datum": 105.8, "type": "quantitative", "scale": {"domain": [-6.8744, 176.444], "nice": false, "zero": false}, "axis": null}, "y": {"datum": 15.56, "type": "quantitative", "scale": {"domain": [-79.33, 273.33], "nice": false, "zero": false}, "axis": null}}},
{"data": {"values": [{}]}, "mark": {"type": "text", "text": "ClosPwr accounts for -9.65"}, "encoding": {"x": {"datum": 105.8, "type": "quantitative", "scale": {"domain": [-6.8744, 176.444], "nice": false, "zero": false}, "axis": null}, "y": {"datum": 4.89, "type": "quantitative", "scale": {"domain": [-79.33, 273.33], "nice": false, "zero": false}, "axis": null}}}
]
},
{
"layer": [
{"data": {"name": "agrid"}, "mark": {"type": "rule", "color": "black", "strokeDash": [1, 3], "strokeWidth": 1.5},
 "encoding": {"x": {"datum": 0, "type": "quantitative", "scale": {"domain": [-6.8744, 176.444], "nice": false, "zero": false}, "axis": null}, "x2": {"datum": 101.5}, "y": {"field": "v", "type": "quantitative", "scale": {"domain": [-0.7048, 5.1211], "nice": false, "zero": false}, "axis": null}}},
{"data": {"name": "acc"}, "mark": {"type": "rule", "strokeWidth": 3.6, "strokeCap": "butt"},
 "encoding": {"x": {"field": "i", "type": "quantitative", "scale": {"domain": [-6.8744, 176.444], "nice": false, "zero": false}, "axis": null}, "y": {"field": "v", "type": "quantitative", "scale": {"domain": [-0.7048, 5.1211], "nice": false, "zero": false}, "axis": null}, "y2": {"datum": 0},
  "color": {"condition": {"test": "datum.v >= 0", "value": "#0000ff"}, "value": "#ff0000"}}},
{"data": {"name": "accma"}, "mark": {"type": "line", "color": "black", "strokeWidth": 2.2, "strokeDash": [2, 2.4], "interpolate": "monotone"},
 "encoding": {"x": {"field": "i", "type": "quantitative", "scale": {"domain": [-6.8744, 176.444], "nice": false, "zero": false}, "axis": null}, "y": {"field": "v", "type": "quantitative", "scale": {"domain": [-0.7048, 5.1211], "nice": false, "zero": false}, "axis": null}}},
{"data": {"name": "agrid"}, "mark": {"type": "text", "fontSize": 13},
 "encoding": {"x": {"datum": -6.3, "type": "quantitative", "scale": {"domain": [-6.8744, 176.444], "nice": false, "zero": false}, "axis": null}, "y": {"field": "v", "type": "quantitative", "scale": {"domain": [-0.7048, 5.1211], "nice": false, "zero": false}, "axis": null}, "text": {"field": "t", "type": "nominal"}}},
{"data": {"values": [{}]}, "mark": {"type": "text", "text": "Accum", "fontSize": 12.5}, "encoding": {"x": {"datum": -6.5, "type": "quantitative", "scale": {"domain": [-6.8744, 176.444], "nice": false, "zero": false}, "axis": null}, "y": {"datum": 0.066, "type": "quantitative", "scale": {"domain": [-0.7048, 5.1211], "nice": false, "zero": false}, "axis": null}}},
{"data": {"values": [{}]}, "mark": {"type": "text", "text": "Index", "fontSize": 12.5}, "encoding": {"x": {"datum": -6.3, "type": "quantitative", "scale": {"domain": [-6.8744, 176.444], "nice": false, "zero": false}, "axis": null}, "y": {"datum": -0.077, "type": "quantitative", "scale": {"domain": [-0.7048, 5.1211], "nice": false, "zero": false}, "axis": null}}},
{"data": {"name": "months"}, "mark": {"type": "rule", "color": "black", "strokeWidth": 2},
 "encoding": {"x": {"field": "i", "type": "quantitative", "scale": {"domain": [-6.8744, 176.444], "nice": false, "zero": false}, "axis": null}, "y": {"datum": -0.496, "type": "quantitative", "scale": {"domain": [-0.7048, 5.1211], "nice": false, "zero": false}, "axis": null}, "y2": {"datum": -0.679}}},
{"data": {"name": "months"}, "mark": {"type": "text", "dx": 7},
 "encoding": {"x": {"field": "i", "type": "quantitative", "scale": {"domain": [-6.8744, 176.444], "nice": false, "zero": false}, "axis": null}, "y": {"datum": -0.576, "type": "quantitative", "scale": {"domain": [-0.7048, 5.1211], "nice": false, "zero": false}, "axis": null}, "text": {"field": "m", "type": "nominal"}}},
{"data": {"values": [{}]}, "mark": {"type": "text", "text": "Accum.Index (IP21) =\u00a0\u00a0.004"}, "encoding": {"x": {"datum": 104.79, "type": "quantitative", "scale": {"domain": [-6.8744, 176.444], "nice": false, "zero": false}, "axis": null}, "y": {"datum": 0.308, "type": "quantitative", "scale": {"domain": [-0.7048, 5.1211], "nice": false, "zero": false}, "axis": null}}},
{"data": {"values": [{}]}, "mark": {"type": "text", "text": "50-Day ITRS (Rel.Strength) = -.001"}, "encoding": {"x": {"datum": 104.79, "type": "quantitative", "scale": {"domain": [-6.8744, 176.444], "nice": false, "zero": false}, "axis": null}, "y": {"datum": -0.025, "type": "quantitative", "scale": {"domain": [-0.7048, 5.1211], "nice": false, "zero": false}, "axis": null}}},
{"data": {"values": [{}]}, "mark": {"type": "text", "text": "TigerSoft Power Index =\u00a0\u00a0.003"}, "encoding": {"x": {"datum": 104.79, "type": "quantitative", "scale": {"domain": [-6.8744, 176.444], "nice": false, "zero": false}, "axis": null}, "y": {"datum": -0.239, "type": "quantitative", "scale": {"domain": [-0.7048, 5.1211], "nice": false, "zero": false}, "axis": null}}},
{"data": {"values": [{}]}, "mark": {"type": "text", "text": "(C)2021-www.tigersoft.com"}, "encoding": {"x": {"datum": 104.79, "type": "quantitative", "scale": {"domain": [-6.8744, 176.444], "nice": false, "zero": false}, "axis": null}, "y": {"datum": -0.477, "type": "quantitative", "scale": {"domain": [-0.7048, 5.1211], "nice": false, "zero": false}, "axis": null}}}
]
}
]
}
